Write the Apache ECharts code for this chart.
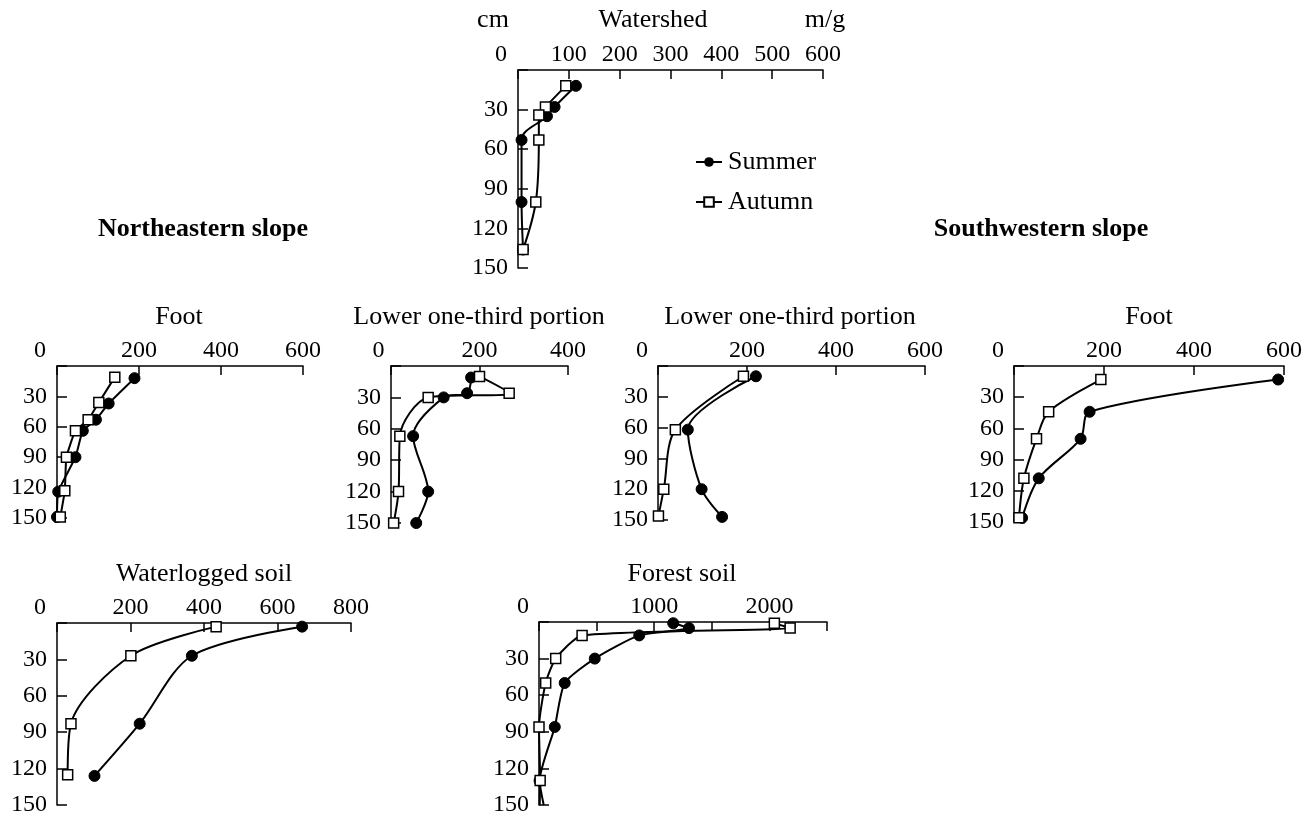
<!DOCTYPE html>
<html>
<head>
<meta charset="utf-8">
<title>Depth profiles</title>
<script src="https://cdn.jsdelivr.net/npm/echarts@6/dist/echarts.min.js"></script>
<style>
  html, body { margin: 0; padding: 0; background: #fff; }
  #chart { width: 1312px; height: 817px; }
</style>
</head>
<body>
<div id="chart"></div>
<script>
// Depth profiles: each point is [value (m/g), depth (cm)]
const depthTicks = [0, 30, 60, 90, 120, 150];

const watershedSummer = [[114, 12], [72, 28], [57, 35], [7, 53], [7, 100], [10, 136]];
const watershedAutumn = [[94, 12], [54, 28], [41, 34], [41, 53], [35, 100], [10, 136]];

const neFootSummer = [[189, 12], [126, 37], [95, 53], [63, 64], [45, 90], [3, 124], [0, 149]];
const neFootAutumn = [[141, 11], [102, 36], [76, 53], [45, 64], [23, 90], [19, 123], [8, 149]];

const neLowerSummer = [[181, 11], [172, 26], [119, 30], [50, 67], [84, 120], [57, 150]];
const neLowerAutumn = [[200, 10], [267, 26], [84, 30], [20, 67], [17, 120], [6, 150]];

const swLowerSummer = [[220, 10], [67, 62], [98, 120], [144, 147]];
const swLowerAutumn = [[192, 10], [39, 62], [13, 120], [1, 146]];

const swFootSummer = [[587, 13], [168, 44], [148, 70], [55, 108], [18, 146]];
const swFootAutumn = [[193, 13], [77, 44], [50, 70], [22, 108], [11, 146]];

const waterloggedSummer = [[667, 3], [367, 27], [225, 83], [102, 126]];
const waterloggedAutumn = [[433, 3], [201, 27], [38, 83], [29, 125]];

const forestSummer = [[1165, 1], [1302, 5], [870, 11], [484, 30], [223, 50], [137, 86], [5, 130], [41, 150]];
const forestAutumn = [[2043, 1], [2180, 5], [374, 11], [145, 30], [58, 50], [0, 86], [10, 130], [6, 150]];

const FONT = '"Liberation Serif", "DejaVu Serif", serif';
const FS = 24;      // tick numbers
const FS_TEXT = 26; // titles, captions, legend

// Panel frames and axis settings
const panels = [
  { title: 'Watershed', tx: 653, ty: 20, left: 518, top: 70, width: 305, height: 198, xMax: 600, xStep: 100, labelStep: 100, zeroShift: 34,
    summer: watershedSummer, autumn: watershedAutumn, smooth: 0.35 },
  { title: 'Foot', tx: 179, ty: 317, left: 57, top: 366, width: 246, height: 152, xMax: 600, xStep: 200, labelStep: 200, zeroShift: 34,
    summer: neFootSummer, autumn: neFootAutumn, smooth: 0.15 },
  { title: 'Lower one-third portion', tx: 479, ty: 317, left: 391, top: 366, width: 177, height: 157, xMax: 400, xStep: 200, labelStep: 200, zeroShift: 25,
    summer: neLowerSummer, autumn: neLowerAutumn, smooth: 0.3 },
  { title: 'Lower one-third portion', tx: 790, ty: 317, left: 658, top: 366, width: 267, height: 154, xMax: 600, xStep: 200, labelStep: 200, zeroShift: 32,
    summer: swLowerSummer, autumn: swLowerAutumn, smooth: 0.3 },
  { title: 'Foot', tx: 1149, ty: 317, left: 1014, top: 366, width: 270, height: 156, xMax: 600, xStep: 200, labelStep: 200, zeroShift: 32,
    summer: swFootSummer, autumn: swFootAutumn, smooth: 0.3 },
  { title: 'Waterlogged soil', tx: 204, ty: 574, left: 57, top: 623, width: 294, height: 184, xMax: 800, xStep: 200, labelStep: 200, zeroShift: 34,
    summer: waterloggedSummer, autumn: waterloggedAutumn, smooth: 0.3 },
  { title: 'Forest soil', tx: 682, ty: 574, left: 539, top: 622, width: 288, height: 183, xMax: 2500, xStep: 500, labelStep: 1000, zeroShift: 32,
    summer: forestSummer, autumn: forestAutumn, smooth: 0.2 }
];

const axisLineStyle = { color: '#000', width: 1.5 };
const grids = [], xAxes = [], yAxes = [], series = [], texts = [];

function caption(x, y, text, bold) {
  return { type: 'text', x: x, y: y, style: { text: text, font: (bold ? 'bold ' : '') + FS_TEXT + 'px ' + FONT,
    fill: '#000', textAlign: 'center', textVerticalAlign: 'middle' } };
}

panels.forEach((p, i) => {
  grids.push({ left: p.left, top: p.top, width: p.width, height: p.height, containLabel: false });
  xAxes.push({
    type: 'value', gridIndex: i, position: 'top', min: 0, max: p.xMax, interval: p.xStep,
    axisLine: { show: true, lineStyle: axisLineStyle },
    axisTick: { show: true, inside: true, length: 9, lineStyle: axisLineStyle },
    splitLine: { show: false },
    axisLabel: {
      show: true, margin: 3, color: '#000', fontFamily: FONT, fontSize: FS,
      formatter: v => v === 0 ? '{z|0}' : (v % p.labelStep === 0 ? String(v) : ''),
      rich: { z: { fontFamily: FONT, fontSize: FS, color: '#000', padding: [0, p.zeroShift, 0, 0] } }
    }
  });
  yAxes.push({
    type: 'value', gridIndex: i, inverse: true, min: 0, max: 150, interval: 30,
    axisLine: { show: true, onZero: false, lineStyle: axisLineStyle },
    axisTick: { show: true, inside: true, length: 10, lineStyle: axisLineStyle },
    splitLine: { show: false },
    axisLabel: {
      show: true, margin: 10, color: '#000', fontFamily: FONT, fontSize: FS,
      formatter: v => depthTicks.indexOf(v) > 0 ? String(v) : ''
    }
  });
  // the forest-soil profiles run on to the bottom of the axis without a marker
  const tail = arr => arr.map((d, k) => (i === 6 && k === arr.length - 1) ? { value: d, symbol: 'none' } : d);
  series.push({
    name: 'Summer', type: 'line', xAxisIndex: i, yAxisIndex: i, data: tail(p.summer),
    smooth: p.smooth, clip: false, symbol: 'circle', symbolSize: 11,
    lineStyle: { color: '#000', width: 2 }, itemStyle: { color: '#000', borderColor: '#000' }, z: 3
  });
  series.push({
    name: 'Autumn', type: 'line', xAxisIndex: i, yAxisIndex: i, data: tail(p.autumn),
    smooth: p.smooth, clip: false, symbol: 'rect', symbolSize: 10,
    lineStyle: { color: '#000', width: 2 }, itemStyle: { color: '#fff', borderColor: '#000', borderWidth: 1.5 }, z: 4
  });
  texts.push(caption(p.tx, p.ty, p.title, false));
});

// Unit captions and slope headings
texts.push(caption(493, 20, 'cm', false));
texts.push(caption(825, 20, 'm/g', false));
texts.push(caption(203, 229, 'Northeastern slope', true));
texts.push(caption(1041, 229, 'Southwestern slope', true));

const chart = echarts.init(document.getElementById('chart'), null, { renderer: 'canvas' });
chart.setOption({
  animation: false,
  backgroundColor: '#fff',
  grid: grids,
  xAxis: xAxes,
  yAxis: yAxes,
  series: series,
  legend: {
    data: ['Summer', 'Autumn'], orient: 'vertical', left: 695, top: 149, itemGap: 14,
    itemWidth: 26, itemHeight: 12, padding: 0,
    textStyle: { fontFamily: FONT, fontSize: FS_TEXT, color: '#000', padding: [0, 0, 0, 1] }
  },
  graphic: texts
});
</script>
</body>
</html>
